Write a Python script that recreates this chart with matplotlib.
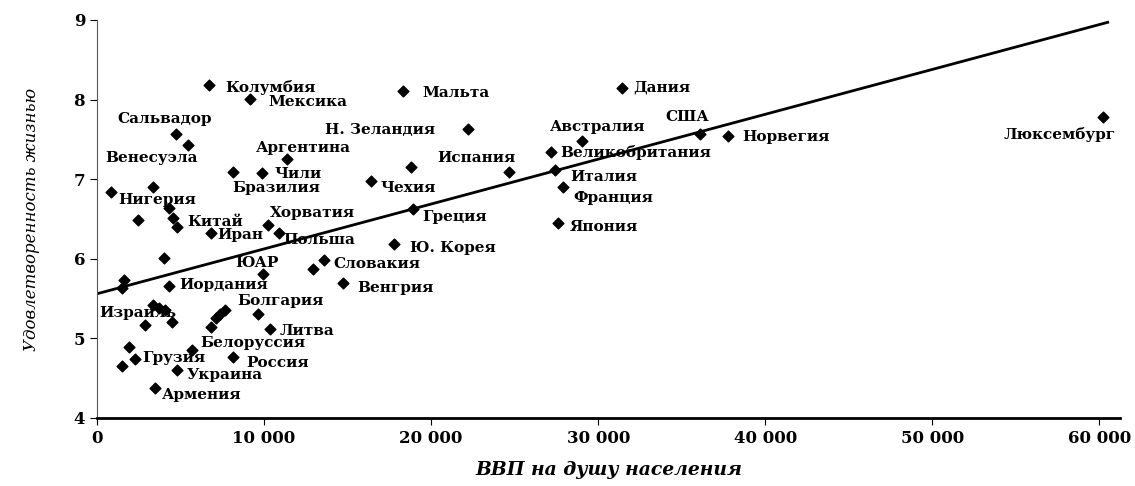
import matplotlib.pyplot as plt
from matplotlib.ticker import FuncFormatter

# GDP per capita vs life satisfaction
gdp = [6700, 9160, 18320, 31440, 22215, 29040, 36110, 37780, 60240, 27190,
       27430, 27900, 27600, 24670, 16410, 18800, 18920, 17780, 13590, 12930,
       14730, 9940, 4310, 4010, 1620, 1500, 3350, 3700, 4070, 2870,
       4490, 7670, 7350, 7100, 6850, 9640, 10360, 5690, 8140, 2280,
       1920, 1500, 4790, 3470, 4730, 5450, 8140, 9880, 11380, 3350,
       840, 2460, 4310, 4550, 4790, 6830, 10240, 10900]
satisf = [8.18, 8.01, 8.11, 8.15, 7.63, 7.48, 7.57, 7.54, 7.78, 7.34,
          7.12, 6.90, 6.45, 7.09, 6.98, 7.15, 6.63, 6.19, 5.98, 5.87,
          5.70, 5.81, 5.66, 6.01, 5.73, 5.63, 5.42, 5.38, 5.36, 5.17,
          5.21, 5.36, 5.30, 5.25, 5.14, 5.31, 5.12, 4.85, 4.77, 4.74,
          4.89, 4.65, 4.60, 4.38, 7.57, 7.43, 7.09, 7.08, 7.25, 6.90,
          6.84, 6.49, 6.64, 6.51, 6.40, 6.32, 6.42, 6.32]

labels = ['Колумбия', 'Мексика', 'Сальвадор', 'Н. Зеландия', 'Аргентина',
          'Венесуэла', 'Чили', 'Бразилия', 'Нигерия', 'Китай', 'Хорватия',
          'Иран', 'Польша', 'ЮАР', 'Иордания', 'Болгария', 'Израиль',
          'Литва', 'Белоруссия', 'Грузия', 'Россия', 'Украина', 'Армения',
          'Словакия', 'Венгрия', 'Ю. Корея', 'Греция', 'Чехия', 'Испания',
          'Мальта', 'Австралия', 'Великобритания', 'Италия', 'Франция',
          'Япония', 'Дания', 'США', 'Норвегия', 'Люксембург']
label_x = [7665, 10240, 1198, 13653, 9521, 479, 10599, 8084, 1257, 5389,
           10359, 7186, 11138, 8263, 4910, 8383, 150, 10958, 6168, 2695,
           8922, 5389, 3892, 14132, 15569, 18742, 19461, 16946, 20359,
           19461, 27126, 27725, 28324, 28503, 28324, 32096, 34012, 38623,
           60958]
label_y = [8.15, 7.97, 7.76, 7.62, 7.39, 7.27, 7.07, 6.89, 6.74, 6.46,
           6.58, 6.30, 6.24, 5.95, 5.67, 5.47, 5.32, 5.09, 4.94, 4.75,
           4.69, 4.54, 4.29, 5.93, 5.63, 6.14, 6.53, 6.89, 7.27, 8.08,
           7.66, 7.33, 7.03, 6.76, 6.40, 8.15, 7.78, 7.53, 7.56]

trend_x = [0, 60500]
trend_y = [5.56, 8.97]

fig = plt.figure(figsize=(11.35, 4.86), dpi=100)
ax = fig.add_axes([0.0855, 0.14, 0.9015, 0.819])

ax.plot(trend_x, trend_y, color='black', lw=2)
ax.scatter(gdp, satisf, marker='D', s=30, color='black', zorder=3)

for t, lx, ly in zip(labels, label_x, label_y):
    ha = 'right' if t == 'Люксембург' else 'left'
    ax.text(lx, ly, t, ha=ha, va='center', family='DejaVu Serif',
            fontweight='bold', fontsize=11, clip_on=False)

ax.set_xlim(0, 61250)
ax.set_ylim(4, 9)
ax.set_xticks(range(0, 60001, 10000))
ax.set_yticks(range(4, 10))
ax.xaxis.set_major_formatter(FuncFormatter(lambda v, p: f'{int(v):,}'.replace(',', ' ')))
for s in ['top', 'right']:
    ax.spines[s].set_visible(False)
ax.spines['bottom'].set_linewidth(2)
ax.spines['left'].set_color('#555555')
ax.tick_params(axis='both', labelsize=12, direction='out', length=5)
for lab in ax.get_xticklabels() + ax.get_yticklabels():
    lab.set_family('DejaVu Serif')
    lab.set_fontweight('bold')

ax.set_ylabel('Удовлетворенность жизнью', family='DejaVu Serif',
              style='italic', fontsize=12, labelpad=24)
ax.set_xlabel('ВВП на душу населения', family='DejaVu Serif',
              style='italic', fontweight='bold', fontsize=13.5, labelpad=10)

fig.savefig('out.png', dpi=100)
